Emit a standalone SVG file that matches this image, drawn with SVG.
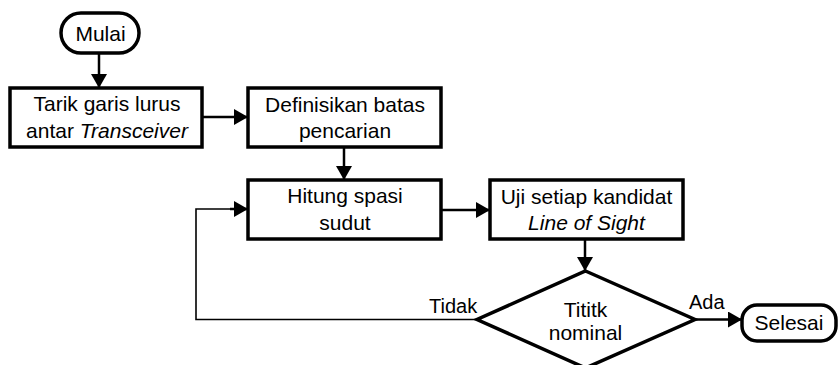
<svg xmlns="http://www.w3.org/2000/svg" width="838" height="365" viewBox="0 0 838 365">
<style>
.box{fill:#fff;stroke:#000;stroke-width:3.5}
.t{font-family:"Liberation Sans",Arial,sans-serif;font-size:21px;fill:#000;text-anchor:middle}
.l{font-family:"Liberation Sans",Arial,sans-serif;font-size:20px;fill:#000}
.c{fill:none;stroke:#000;stroke-width:2.5}
.thin{fill:none;stroke:#000;stroke-width:1.6}
</style>
<defs>
<marker id="ah" markerUnits="userSpaceOnUse" markerWidth="14" markerHeight="16" refX="13" refY="8" orient="auto">
<path d="M0,0 L14,8 L0,16 Z" fill="#000"/>
</marker>
</defs>
<rect width="838" height="365" fill="#fff"/>
<g id="connectors">
<path class="c" d="M99,54 V87" marker-end="url(#ah)"/>
<path class="c" d="M202,117 H247" marker-end="url(#ah)"/>
<path class="c" d="M344,147 V179" marker-end="url(#ah)"/>
<path class="c" d="M441,210 H489" marker-end="url(#ah)"/>
<path class="c" d="M585,239 V270" marker-end="url(#ah)"/>
<path class="thin" d="M477,319.5 H196 V209 H230"/>
<path class="c" d="M230,209 H247" marker-end="url(#ah)"/>
<path class="c" d="M695,319.5 H741" marker-end="url(#ah)"/>
<text class="l" x="429" y="313">Tidak</text>
<text class="l" x="689" y="309">Ada</text>
</g>
<g id="mulai">
<rect class="box" x="61" y="13" width="78" height="40" rx="20"/>
<text class="t" x="100.5" y="40.5">Mulai</text>
</g>
<g id="tarik">
<rect class="box" x="10" y="88" width="192" height="59"/>
<text class="t" x="107" y="111">Tarik garis lurus</text>
<text class="t" x="107" y="138">antar <tspan font-style="italic">Transceiver</tspan></text>
</g>
<g id="definisikan">
<rect class="box" x="248" y="88" width="193" height="59"/>
<text class="t" x="345" y="111.5">Definisikan batas</text>
<text class="t" x="345" y="138">pencarian</text>
</g>
<g id="hitung">
<rect class="box" x="248" y="180" width="193" height="59"/>
<text class="t" x="345" y="202.5">Hitung spasi</text>
<text class="t" x="345" y="230">sudut</text>
</g>
<g id="uji">
<rect class="box" x="490" y="180" width="193" height="59"/>
<text class="t" x="586.5" y="203.5">Uji setiap kandidat</text>
<text class="t" x="586.5" y="230" font-style="italic">Line of Sight</text>
</g>
<g id="titik">
<polygon class="box" points="585.5,271 695,319.5 585.5,368 477,319.5"/>
<text class="t" x="585.5" y="316.5">Tititk</text>
<text class="t" x="585.5" y="340">nominal</text>
</g>
<g id="selesai">
<rect class="box" x="742" y="305" width="94" height="36" rx="15"/>
<text class="t" x="789" y="330">Selesai</text>
</g>
</svg>
